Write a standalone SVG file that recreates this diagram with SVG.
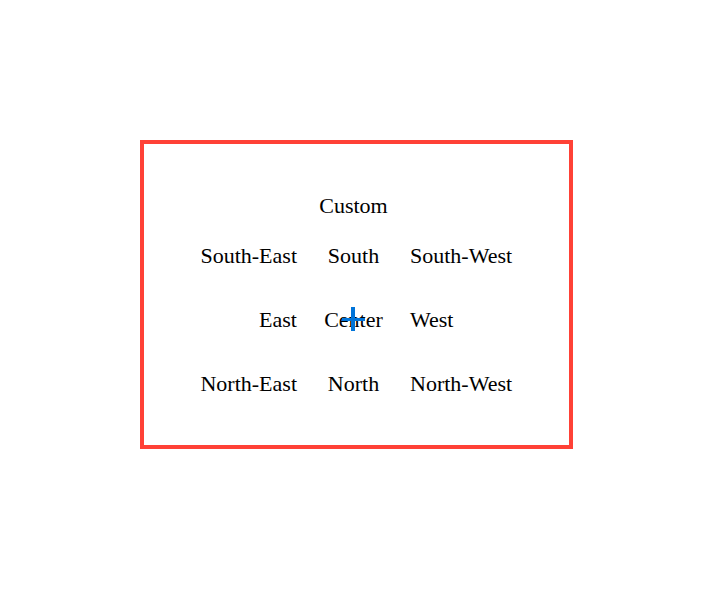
<svg xmlns="http://www.w3.org/2000/svg" width="713" height="589" viewBox="0 0 713 589">
<style>
text{font-family:"Liberation Serif","DejaVu Serif",serif;font-size:22px;fill:#000}
.e{text-anchor:end}.m{text-anchor:middle}.s{text-anchor:start}
</style>
<rect width="713" height="589" fill="#fff"/>
<g id="frame"><rect x="142" y="142" width="429" height="305" fill="none" stroke="#ff4136" stroke-width="4"/></g>
<g id="labels">
<text id="custom" class="m" x="353.5" y="213">Custom</text>
<text id="south-east" class="e" x="297" y="262.5">South-East</text>
<text id="south" class="m" x="353.5" y="262.5">South</text>
<text id="south-west" class="s" x="410" y="262.5">South-West</text>
<text id="east" class="e" x="297" y="326.5">East</text>
<text id="center" class="m" x="353.5" y="326.5">Center</text>
<text id="west" class="s" x="410" y="326.5">West</text>
<text id="north-east" class="e" x="297" y="390.5">North-East</text>
<text id="north" class="m" x="353.5" y="390.5">North</text>
<text id="north-west" class="s" x="410" y="390.5">North-West</text>
</g>
<g id="origin" stroke="#0074d9">
<line x1="353" y1="307" x2="353" y2="331" stroke-width="4"/>
<line x1="342" y1="319.5" x2="365" y2="319.5" stroke-width="3"/>
</g>
</svg>
